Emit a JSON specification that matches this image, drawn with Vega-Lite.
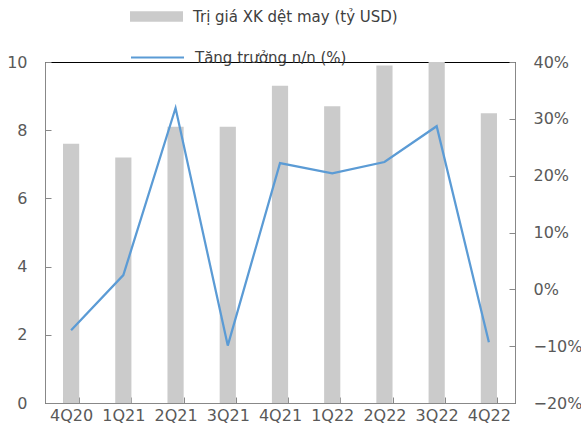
{
  "$schema": "https://vega.github.io/schema/vega-lite/v6.json",
  "width": 470,
  "height": 341,
  "autosize": {"type": "none"},
  "padding": {"left": 45, "top": 62, "right": 66, "bottom": 34},
  "background": "white",
  "config": {
    "view": {"stroke": "black", "strokeWidth": 1},
    "font": "DejaVu Sans",
    "axis": {"grid": false, "zindex": 1, "labelColor": "#595959", "labelFont": "DejaVu Sans", "labelFontSize": 16},
    "legend": {"labelFont": "DejaVu Sans", "labelFontSize": 15, "labelColor": "#404040", "labelLimit": 400}
  },
  "data": {"values": [
    {"q": "4Q20", "value": 7.6, "growth": -0.072},
    {"q": "1Q21", "value": 7.2, "growth": 0.025},
    {"q": "2Q21", "value": 8.1, "growth": 0.319},
    {"q": "3Q21", "value": 8.1, "growth": -0.099},
    {"q": "4Q21", "value": 9.3, "growth": 0.222},
    {"q": "1Q22", "value": 8.7, "growth": 0.204},
    {"q": "2Q22", "value": 9.9, "growth": 0.224},
    {"q": "3Q22", "value": 10.0, "growth": 0.287},
    {"q": "4Q22", "value": 8.5, "growth": -0.093}
  ]},
  "encoding": {
    "x": {"field": "q", "type": "nominal", "sort": null,
      "scale": {"paddingInner": 0.69, "paddingOuter": 0.345},
      "axis": {"title": null, "labelAngle": 0, "tickBand": "extent", "tickSize": -6, "labelPadding": 10}}
  },
  "layer": [
    {
      "mark": {"type": "bar", "color": "#CBCBCB"},
      "encoding": {
        "y": {"field": "value", "type": "quantitative", "scale": {"domain": [0, 10], "nice": false},
          "axis": {"title": null, "values": [0, 2, 4, 6, 8, 10], "tickSize": -6, "labelPadding": 24}},
        "fill": {"datum": "Trị giá XK dệt may (tỷ USD)", "type": "nominal",
          "scale": {"range": ["#CBCBCB"]},
          "legend": {"title": null, "orient": "none", "legendX": 85, "legendY": -72,
            "symbolType": "M-1,-0.2H1V0.2H-1Z", "symbolSize": 2809, "symbolStrokeWidth": 0, "labelOffset": 10}}
      }
    },
    {
      "mark": {"type": "line", "color": "#5B9BD5", "strokeWidth": 2.25},
      "encoding": {
        "y": {"field": "growth", "type": "quantitative", "scale": {"domain": [-0.2, 0.4], "nice": false},
          "axis": {"title": null, "orient": "right", "format": ".0%", "values": [-0.2, -0.1, 0, 0.1, 0.2, 0.3, 0.4], "tickSize": -6, "labelPadding": 24}},
        "stroke": {"datum": "Tăng trưởng n/n (%)", "type": "nominal",
          "scale": {"range": ["#5B9BD5"]},
          "legend": {"title": null, "orient": "none", "legendX": 85, "legendY": -32,
            "symbolType": "stroke", "symbolSize": 2809, "symbolStrokeWidth": 2, "labelOffset": 10}}
      }
    }
  ],
  "resolve": {"scale": {"y": "independent", "fill": "independent", "stroke": "independent"}}
}
